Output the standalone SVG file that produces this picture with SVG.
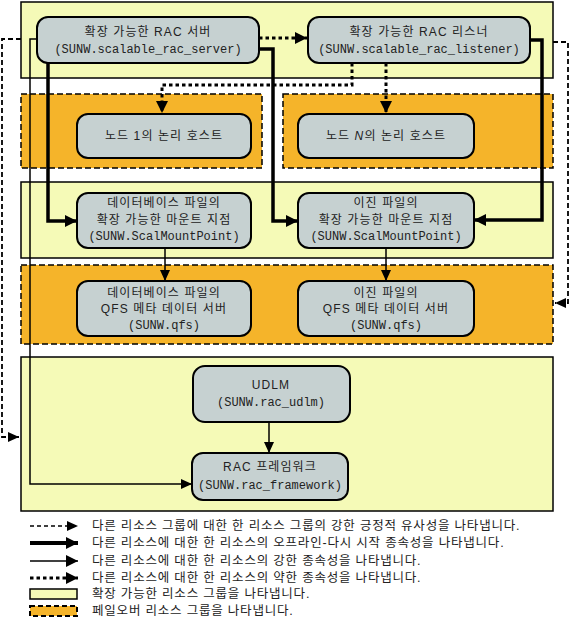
<svg xmlns="http://www.w3.org/2000/svg" width="571" height="633" viewBox="0 0 571 633">
<style>
.bg{fill:#ffffff}
.sg{fill:#F5FAB7;stroke:#000;stroke-width:1.5}
.fg{fill:#F5B42A;stroke:#000;stroke-width:1.5;stroke-dasharray:6 3}
.nd{fill:#C6D1D1;stroke:#000;stroke-width:2}
.t{font-family:"Liberation Sans","Noto Sans CJK KR",sans-serif;font-size:12px;letter-spacing:1.1px;fill:#222;text-anchor:middle}
.m{font-family:"Liberation Mono","DejaVu Sans Mono",monospace;font-size:12px;fill:#222;text-anchor:middle}
.lt{font-family:"Liberation Sans","Noto Sans CJK KR",sans-serif;font-size:12.5px;letter-spacing:0.8px;fill:#222}
.aff{fill:none;stroke:#000;stroke-width:1.8;stroke-dasharray:5 3}
.weak{fill:none;stroke:#000;stroke-width:3;stroke-dasharray:3.5 3}
.off{fill:none;stroke:#000;stroke-width:3.5}
.str{fill:none;stroke:#000;stroke-width:1.5}
</style>
<defs>
<marker id="ah" markerUnits="userSpaceOnUse" markerWidth="12" markerHeight="12" viewBox="0 0 12 12" refX="11" refY="6" orient="auto">
<path d="M0,1 L11,6 L0,11 Z" fill="#000"/>
</marker>
<marker id="ahb" markerUnits="userSpaceOnUse" markerWidth="14" markerHeight="14" viewBox="0 0 14 14" refX="12" refY="7" orient="auto">
<path d="M0,1 L12,7 L0,13 Z" fill="#000"/>
</marker>
</defs>
<rect class="bg" x="0" y="0" width="571" height="633"/>

<g id="groups">
<rect id="grp-scalable-top" class="sg" x="21" y="2" width="532" height="76"/>
<rect id="grp-failover-1" class="fg" x="21" y="94" width="241" height="74"/>
<rect id="grp-failover-n" class="fg" x="283" y="94" width="270" height="74"/>
<rect id="grp-scalable-mount" class="sg" x="21" y="182" width="532" height="76"/>
<rect id="grp-failover-qfs" class="fg" x="21" y="265" width="532" height="79"/>
<rect id="grp-scalable-fw" class="sg" x="21" y="357" width="532" height="154"/>
</g>

<g id="connectors">
<path class="aff" d="M21,39 H2 V437 H19" marker-end="url(#ah)"/>
<path class="aff" d="M553,42 H568 V303 H555" marker-end="url(#ah)"/>
<path class="weak" d="M259,38 H307" marker-end="url(#ahb)"/>
<path class="weak" d="M352,63 V85 H162 V113" marker-end="url(#ahb)"/>
<path class="weak" d="M386,63 V113" marker-end="url(#ahb)"/>
<path class="off" d="M48,63 V221 H77" marker-end="url(#ahb)"/>
<path class="off" d="M259,49 H273 V221 H298" marker-end="url(#ahb)"/>
<path class="off" d="M530,40 H542 V220 H474" marker-end="url(#ahb)"/>
<path class="str" d="M37,39 H30 V484 H192" marker-end="url(#ah)"/>
<path class="str" d="M165,248 V281" marker-end="url(#ah)"/>
<path class="str" d="M386,248 V281" marker-end="url(#ah)"/>
<path class="str" d="M269,422 V453" marker-end="url(#ah)"/>
</g>

<g id="node-rac-server">
<rect class="nd" x="37" y="17" width="222" height="46" rx="11"/>
<text class="t" x="148" y="36">확장 가능한 RAC 서버</text>
<text class="m" x="148" y="53">(SUNW.scalable_rac_server)</text>
</g>
<g id="node-rac-listener">
<rect class="nd" x="308" y="17" width="222" height="46" rx="11"/>
<text class="t" x="419" y="36">확장 가능한 RAC 리스너</text>
<text class="m" x="419" y="53">(SUNW.scalable_rac_listener)</text>
</g>
<g id="node-lh-1">
<rect class="nd" x="77" y="114" width="174" height="44" rx="11"/>
<text class="t" x="164" y="140">노드 1의 논리 호스트</text>
</g>
<g id="node-lh-n">
<rect class="nd" x="298" y="114" width="176" height="44" rx="11"/>
<text class="t" x="386" y="140">노드 <tspan font-style="italic">N</tspan>의 논리 호스트</text>
</g>
<g id="node-mount-db">
<rect class="nd" x="77" y="193" width="174" height="55" rx="11"/>
<text class="t" x="164" y="207">데이터베이스 파일의</text>
<text class="t" x="164" y="224">확장 가능한 마운트 지점</text>
<text class="m" x="164" y="240">(SUNW.ScalMountPoint)</text>
</g>
<g id="node-mount-bin">
<rect class="nd" x="298" y="193" width="176" height="55" rx="11"/>
<text class="t" x="386" y="207">이진 파일의</text>
<text class="t" x="386" y="224">확장 가능한 마운트 지점</text>
<text class="m" x="386" y="240">(SUNW.ScalMountPoint)</text>
</g>
<g id="node-qfs-db">
<rect class="nd" x="77" y="281" width="174" height="55" rx="11"/>
<text class="t" x="164" y="297">데이터베이스 파일의</text>
<text class="t" x="164" y="313">QFS 메타 데이터 서버</text>
<text class="m" x="164" y="329">(SUNW.qfs)</text>
</g>
<g id="node-qfs-bin">
<rect class="nd" x="298" y="281" width="176" height="55" rx="11"/>
<text class="t" x="386" y="297">이진 파일의</text>
<text class="t" x="386" y="313">QFS 메타 데이터 서버</text>
<text class="m" x="386" y="329">(SUNW.qfs)</text>
</g>
<g id="node-udlm">
<rect class="nd" x="193" y="366" width="157" height="56" rx="12"/>
<text class="t" x="271" y="389">UDLM</text>
<text class="m" x="271" y="406">(SUNW.rac_udlm)</text>
</g>
<g id="node-rac-framework">
<rect class="nd" x="192" y="453" width="156" height="47" rx="11"/>
<text class="t" x="270" y="471">RAC 프레임워크</text>
<text class="m" x="270" y="489">(SUNW.rac_framework)</text>
</g>

<g id="legend">
<path class="aff" d="M30,526 H78" marker-end="url(#ah)" style="stroke-width:1.5;stroke-dasharray:4 3"/>
<path class="off" d="M30,543 H78" marker-end="url(#ahb)" style="stroke-width:4"/>
<path class="str" d="M30,561 H78" marker-end="url(#ahb)"/>
<path class="weak" d="M30,578 H78" marker-end="url(#ahb)"/>
<rect class="sg" x="30" y="589" width="47" height="10"/>
<rect class="fg" x="30" y="606" width="47" height="10" style="stroke-width:2;stroke-dasharray:5 3"/>
<text class="lt" x="92" y="530">다른 리소스 그룹에 대한 한 리소스 그룹의 강한 긍정적 유사성을 나타냅니다.</text>
<text class="lt" x="92" y="547">다른 리소스에 대한 한 리소스의 오프라인-다시 시작 종속성을 나타냅니다.</text>
<text class="lt" x="92" y="565">다른 리소스에 대한 한 리소스의 강한 종속성을 나타냅니다.</text>
<text class="lt" x="92" y="582">다른 리소스에 대한 한 리소스의 약한 종속성을 나타냅니다.</text>
<text class="lt" x="92" y="598">확장 가능한 리소스 그룹을 나타냅니다.</text>
<text class="lt" x="92" y="615">페일오버 리소스 그룹을 나타냅니다.</text>
</g>
</svg>
